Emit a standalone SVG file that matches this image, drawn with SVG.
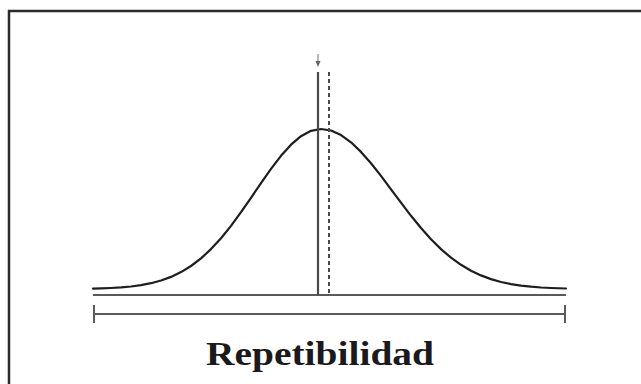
<svg xmlns="http://www.w3.org/2000/svg" width="641" height="384" viewBox="0 0 641 384">
<style>
.frame{fill:none;stroke:#2b2b2b;stroke-width:2.5}
.curve{fill:none;stroke:#1e1e1e;stroke-width:2.2;stroke-linejoin:round;stroke-linecap:round}
.rule{stroke:#5a5a5a;stroke-width:2;fill:none}
.solid{stroke:#4a4a4a;stroke-width:2.2}
.dash{stroke:#4a4a4a;stroke-width:2;stroke-dasharray:4 3}
.label{font-family:"Liberation Serif","DejaVu Serif",serif;font-weight:bold;font-size:33px;fill:#1a1a1a}
</style>
<rect width="641" height="384" fill="#fff"/>
<path class="frame" d="M9,384 L9,11 L641,11"/>
<g id="curve">
<polyline class="curve" points="93,288.6 101,288.4 111,288 121,287.4 131,286.5 141,285.1 151,283.2 161,280.5 171,276.9 181,272.1 191,266 201,258.4 211,249.1 221,238.2 231,225.9 241,212.2 251,197.8 261,183.2 271,168.9 281,155.8 291,144.7 301,136.2 311,130.8 321,129 331,130.5 341,135.1 351,142.3 361,151.9 371,163.3 381,175.9 391,189.3 401,202.7 411,215.8 421,228 431,239.2 441,249.1 451,257.7 461,264.8 471,270.7 481,275.4 491,279.1 501,282 511,284.1 521,285.6 531,286.7 541,287.5 551,288 566,288.5"/>
</g>
<g id="connectors">
<line class="rule" x1="93" y1="295" x2="566" y2="295"/>
<line class="rule" x1="94" y1="314" x2="565" y2="314"/>
<line class="rule" x1="94" y1="305" x2="94" y2="323" stroke-width="2.5"/>
<line class="rule" x1="565" y1="305" x2="565" y2="323" stroke-width="2.5"/>
<line class="solid" x1="318" y1="72" x2="318" y2="295"/>
<line class="dash" x1="329" y1="72" x2="329" y2="295"/>
<line stroke="#888" stroke-width="1.2" x1="318" y1="54" x2="318" y2="62"/>
<path d="M315.5,61 L320.5,61 L318,67 Z" fill="#666"/>
</g>
<g id="label">
<text class="label" x="320" y="365" text-anchor="middle" textLength="228" lengthAdjust="spacingAndGlyphs">Repetibilidad</text>
</g>
</svg>
